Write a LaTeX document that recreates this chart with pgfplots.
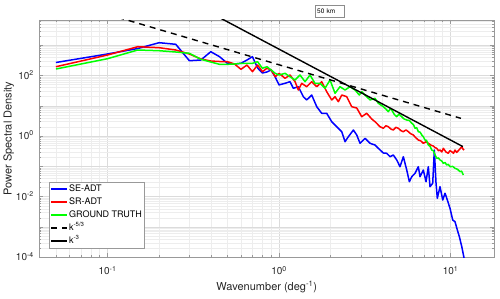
\documentclass[border=0pt]{standalone}
\usepackage{fontspec}
\setmainfont{TeX Gyre Heros}
\usepackage{pgfplots}
\pgfplotsset{compat=1.18}
\newcommand\tp[1]{10\textsuperscript{#1}}
\definecolor{mblue}{RGB}{0,0,255}
\definecolor{mred}{RGB}{255,0,0}
\definecolor{mgreen}{RGB}{0,255,0}
\begin{document}
\begin{tikzpicture}[x=1pt,y=1pt]
\begin{axis}[
  at={(0,0)}, anchor=south west,
  scale only axis, width=455pt, height=237.3pt,
  xmode=log, ymode=log,
  xmin=0.04, xmax=18, ymin=1e-4, ymax=6800,
  xtick={0.1,1,10}, xticklabels={\tp{-1},\tp{0},\tp{1}},
  minor xtick={0.04,0.05,0.06,0.07,0.08,0.09,0.2,0.3,0.4,0.5,0.6,0.7,0.8,0.9,2,3,4,5,6,7,8,9},
  ytick={1e-4,1e-3,1e-2,1e-1,1,10,100,1000},
  yticklabels={\tp{-4},,\tp{-2},,\tp{0},,\tp{2},},
  minor ytick={2e-4,3e-4,4e-4,5e-4,6e-4,7e-4,8e-4,9e-4,2e-3,3e-3,4e-3,5e-3,6e-3,7e-3,8e-3,9e-3,2e-2,3e-2,4e-2,5e-2,6e-2,7e-2,8e-2,9e-2,0.2,0.3,0.4,0.5,0.6,0.7,0.8,0.9,2,3,4,5,6,7,8,9,20,30,40,50,60,70,80,90,200,300,400,500,600,700,800,900,2000,3000,4000,5000,6000},
  grid=both,
  major grid style={draw=black!14, line width=0.5pt},
  minor grid style={draw=black!7, line width=0.5pt},
  axis line style={draw=black!40, line width=0.6pt},
  tick style={draw=black!40, line width=0.5pt},
  tick align=inside,
  major tick length=4pt, minor tick length=2pt,
  xticklabel style={font=\fontsize{10}{12}\selectfont, anchor=base, inner sep=0pt, yshift=-17.4pt, text=black!85},
  yticklabel style={font=\fontsize{10}{12}\selectfont, anchor=base east, inner sep=0pt, xshift=-5.3pt, yshift=-3.5pt, text=black!85},
  xlabel={Wavenumber (deg\textsuperscript{-1})},
  ylabel={Power Spectral Density},
  xlabel style={font=\fontsize{11}{13}\selectfont, at={(axis description cs:0.5,-0.1407)}, anchor=base, text=black!85},
  ylabel style={font=\fontsize{11}{13}\selectfont, at={(axis description cs:-0.0672,0.5)}, anchor=center, text=black!85},
  legend cell align=left,
  legend style={at={(axis description cs:0.0213,0.0392)}, anchor=south west,
    font=\fontsize{9}{10}\selectfont, draw=black!40, fill=white,
    inner xsep=1.5pt, inner ysep=1pt, row sep=1.5pt,
    nodes={inner xsep=1pt, inner ysep=1.5pt, text height=6.5pt, text depth=2pt}},
  legend image code/.code={\draw[#1] (0pt,0pt) -- (16pt,0pt);},
  every axis plot/.append style={line join=round},
]
\addplot[mblue, line width=1.5pt] coordinates {
(0.05,269) (0.1,513) (0.15,778) (0.2,1211) (0.25,1072) (0.3,308) (0.35,325) (0.4,611) (0.45,418) (0.5,253)
(0.55,240) (0.6,253) (0.65,325) (0.7,418) (0.75,177) (0.8,121) (0.85,131) (0.9,152) (0.95,89) (1.0,49)
(1.084,55.3) (1.159,62.5) (1.212,37.8) (1.296,42.7) (1.386,20.0) (1.450,15.6) (1.551,22.7) (1.659,9.35)
(1.774,5.66) (1.897,5.66) (2.029,2.99) (2.170,2.04) (2.321,1.40) (2.426,0.653) (2.536,0.955) (2.713,1.59)
(2.839,1.09) (2.967,0.579) (3.173,0.847) (3.394,0.579) (3.629,0.509) (3.793,0.396) (4.057,0.277) (4.246,0.271)
(4.438,0.209) (4.639,0.238) (4.857,0.163) (5.077,0.0977) (5.307,0.209) (5.555,0.0760) (5.753,0.0313)
(5.941,0.0457) (6.209,0.0592) (6.491,0.0977) (6.641,0.0457) (6.941,0.0760) (7.197,0.0313) (7.423,0.0977)
(7.594,0.0214) (7.875,0.0277) (8.046,0.348) (8.232,0.0277) (8.375,0.00885) (8.685,0.0214) (9.006,0.00778)
(9.289,0.0130) (9.580,0.00778) (9.933,0.00414) (10.30,0.00170) (10.62,0.00150) (10.96,0.000796)
(11.26,0.000479) (11.63,0.000224) (11.99,0.0000948)
};
\addlegendentry{SE-ADT}
\addplot[mred, line width=1.5pt] coordinates {
(0.05,195) (0.1,475) (0.15,893) (0.2,828) (0.25,695) (0.3,513) (0.35,351) (0.4,301) (0.45,290) (0.5,286)
(0.55,240) (0.6,160) (0.65,222) (0.7,134) (0.75,222) (0.8,134) (0.85,173) (0.9,152) (0.95,91.4) (1.0,118)
(1.084,80.9) (1.159,104) (1.240,62.5) (1.296,33.2) (1.356,55.3) (1.450,42.7) (1.551,62.5) (1.659,42.7)
(1.774,62.5) (1.897,29.2) (2.029,15.6) (2.121,20.0) (2.217,13.7) (2.321,22.7) (2.482,20.0) (2.654,9.35)
(2.839,8.47) (3.035,4.37) (3.246,5.66) (3.472,3.67) (3.629,2.99) (3.881,2.04)
(4.057,1.81) (4.2,2.2) (4.338,2.04) (4.5,1.7) (4.639,1.59) (4.8,1.95) (4.962,1.81) (5.15,1.5) (5.307,1.40)
(5.5,1.6) (5.675,1.40) (5.85,1.2) (6.069,1.09) (6.25,0.9) (6.491,0.745) (6.7,0.7) (6.941,0.579) (7.2,0.65)
(7.423,0.579) (7.7,0.5) (7.939,0.472) (8.1,0.42) (8.311,0.396) (8.5,0.33) (8.685,0.348) (8.9,0.3) (9.08,0.396)
(9.4,0.3) (9.71,0.271) (9.9,0.33) (10.16,0.306) (10.4,0.27) (10.62,0.348) (10.85,0.29) (11.10,0.330)
(11.35,0.38) (11.63,0.447) (11.8,0.38) (11.99,0.348)
};
\addlegendentry{SR-ADT}
\addplot[mgreen, line width=1.5pt] coordinates {
(0.05,164) (0.1,359) (0.15,695) (0.2,659) (0.25,597) (0.3,541) (0.35,343) (0.4,279) (0.45,234) (0.5,234)
(0.55,240) (0.6,253) (0.65,253) (0.7,253) (0.75,286) (0.8,173) (0.85,195) (0.9,152) (0.95,118) (1.0,104)
(1.084,118) (1.159,91.4) (1.240,71.1) (1.326,104) (1.418,62.5) (1.516,104) (1.621,55.3) (1.734,55.3)
(1.854,37.8) (1.984,71.1) (2.121,25.9) (2.268,42.7) (2.426,33.2) (2.594,42.7) (2.774,33.2) (2.939,22.7)
(3.035,29.2) (3.246,20.0) (3.394,15.6) (3.629,17.7) (3.793,12.1)
(4.057,9.35) (4.2,7.8) (4.338,6.39) (4.45,8.0) (4.541,7.27) (4.7,5.2) (4.857,4.37) (5.0,5.3) (5.195,4.37)
(5.35,3.7) (5.555,3.40) (5.75,3.3) (5.941,2.65) (6.08,2.4) (6.209,1.81) (6.35,1.9) (6.491,1.40) (6.65,1.35)
(6.795,1.09) (6.95,0.95) (7.101,0.745) (7.25,0.72) (7.423,0.509) (7.6,0.46) (7.770,0.348) (7.95,0.33)
(8.124,0.238) (8.311,0.185) (8.5,0.19) (8.685,0.163) (8.9,0.15) (9.08,0.126) (9.3,0.135) (9.50,0.111)
(9.7,0.118) (9.933,0.0977) (10.3,0.1) (10.62,0.0867) (11.0,0.08) (11.36,0.0669) (11.6,0.07) (11.88,0.052)
};
\addlegendentry{GROUND TRUTH}
\addplot[black, line width=1.4pt, dash pattern=on 6pt off 5pt] coordinates {(0.1,10491) (11.5,3.86)};
\addlegendentry{k\textsuperscript{-5/3}}
\addplot[black, line width=1.4pt] coordinates {(0.4,11578) (11.8,0.451)};
\addlegendentry{k\textsuperscript{-3}}
\end{axis}
\node[draw=black!45, fill=white, anchor=north west, inner xsep=2pt, inner ysep=0pt,
  text width=25pt, minimum height=12pt, align=left, font=\fontsize{6.5}{7}\selectfont]
  at (275.7pt,252.3pt) {50 km};
\pgfresetboundingbox
\useasboundingbox (-39.3pt,-41.7pt) rectangle (460.7pt,257.3pt);
\end{tikzpicture}
\end{document}
